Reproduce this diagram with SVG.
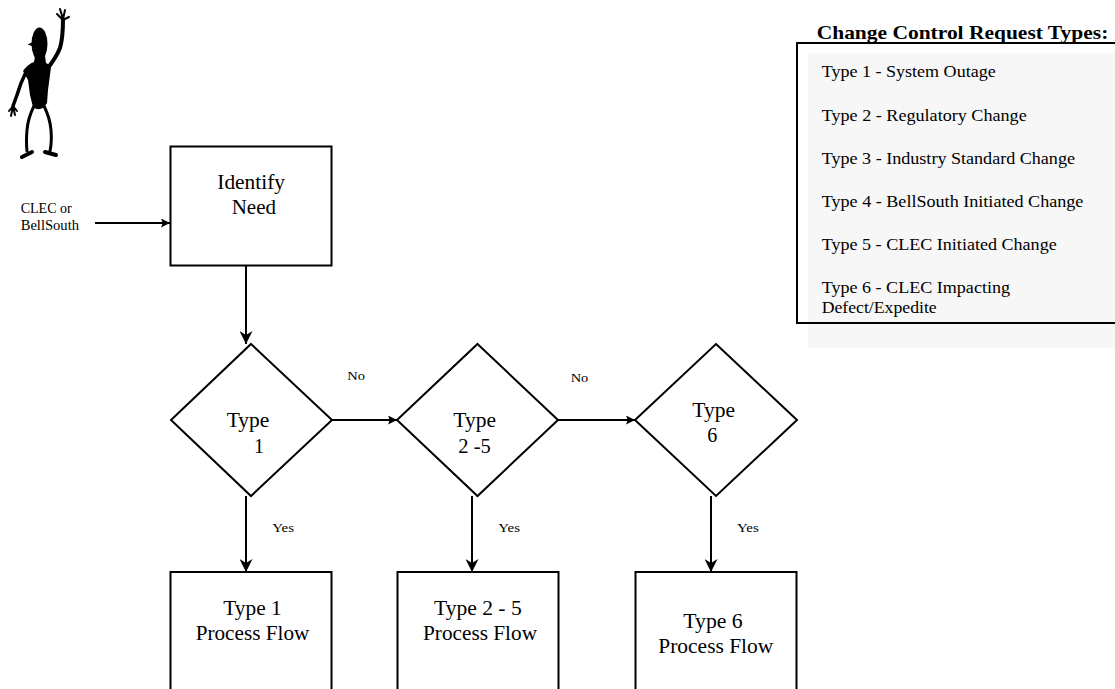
<svg xmlns="http://www.w3.org/2000/svg" width="1115" height="689" viewBox="0 0 1115 689">
<style>
.box{fill:#fff;stroke:#000;stroke-width:2}
.dia{fill:#fff;stroke:#000;stroke-width:2}
.ln{fill:none;stroke:#000;stroke-width:2}
.t{font-family:"Liberation Serif","Times New Roman",serif;fill:#000}
.big{font-size:20px}
.sm{font-size:13px}
.leg{font-size:16px}
.fig{fill:none;stroke:#000;stroke-linecap:round;stroke-linejoin:round}
</style>
<defs>
<marker id="ah" viewBox="0 0 10 10" refX="10" refY="5" markerWidth="13" markerHeight="13" markerUnits="userSpaceOnUse" orient="auto">
<path d="M0,0 L10,5 L0,10 L3,5 Z" fill="#000"/>
</marker>
<marker id="ahs" viewBox="0 0 10 10" refX="10" refY="5" markerWidth="10" markerHeight="9" markerUnits="userSpaceOnUse" orient="auto">
<path d="M0,0 L10,5 L0,10 L2,5 Z" fill="#000"/>
</marker>
</defs>
<rect width="1115" height="689" fill="#fff"/>

<g id="figure">
<ellipse cx="39.5" cy="44" rx="8" ry="16.5" fill="#000"/>
<path d="M27.5,44.5 L35,41 L35,47 Z" fill="#000"/>
<path d="M23,71 Q28,64 34,62 L35,56 L45,56 L46,63 Q49,64 51,67 L48,90 L47,103 Q41,113 33,107 L30,95 L28,80 Z" fill="#000"/>
<path class="fig" stroke-width="4" d="M47,69 Q56,58 60,48 Q63,38 63,19"/>
<path class="fig" stroke-width="2" d="M63,20 L57,14 M63,19 L60,9 M63,19 L65,10 M63,20 L69,17"/>
<path class="fig" stroke-width="3.5" d="M26,72 Q20,84 17,95 L13,106"/>
<path class="fig" stroke-width="2" d="M13,106 L9,111 M13,106 L11,116 M13,106 L15,115 M13,106 L17,111"/>
<path class="fig" stroke-width="3" d="M34,106 Q28,118 27,130 Q26,142 27,151"/>
<path class="fig" stroke-width="4" d="M22,157 L32,152"/>
<path class="fig" stroke-width="3" d="M44,106 Q50,118 51,130 Q52,142 50,151"/>
<path class="fig" stroke-width="4" d="M45,152 L56,155"/>
</g>

<g id="legend">
<rect x="808" y="53" width="320" height="295" fill="#f7f7f7"/>
<rect x="797" y="43" width="330" height="280" fill="none" stroke="#000" stroke-width="2"/>
<text class="t" x="816.7" y="39" font-size="19" font-weight="bold" textLength="291.6" lengthAdjust="spacingAndGlyphs">Change Control Request Types:</text>
<text class="t leg" x="821.7" y="76.7" textLength="174" lengthAdjust="spacingAndGlyphs">Type 1 - System Outage</text>
<text class="t leg" x="821.7" y="121" textLength="205" lengthAdjust="spacingAndGlyphs">Type 2 - Regulatory Change</text>
<text class="t leg" x="821.7" y="164" textLength="253.3" lengthAdjust="spacingAndGlyphs">Type 3 - Industry Standard Change</text>
<text class="t leg" x="821.7" y="207.3" textLength="261.7" lengthAdjust="spacingAndGlyphs">Type 4 - BellSouth Initiated Change</text>
<text class="t leg" x="821.7" y="250.3" textLength="235" lengthAdjust="spacingAndGlyphs">Type 5 - CLEC Initiated Change</text>
<text class="t leg" x="821.7" y="293.3" textLength="188.3" lengthAdjust="spacingAndGlyphs">Type 6 - CLEC Impacting</text>
<text class="t leg" x="821.7" y="313.3" textLength="115" lengthAdjust="spacingAndGlyphs">Defect/Expedite</text>
</g>

<g id="connectors">
<line class="ln" x1="95" y1="223" x2="170" y2="223" marker-end="url(#ahs)"/>
<line class="ln" x1="246" y1="266" x2="246" y2="344" marker-end="url(#ah)"/>
<line class="ln" x1="332" y1="420" x2="397" y2="420" marker-end="url(#ahs)"/>
<line class="ln" x1="558" y1="420" x2="635" y2="420" marker-end="url(#ahs)"/>
<line class="ln" x1="246" y1="496" x2="246" y2="572" marker-end="url(#ah)"/>
<line class="ln" x1="472" y1="496" x2="472" y2="572" marker-end="url(#ah)"/>
<line class="ln" x1="711" y1="496" x2="711" y2="572" marker-end="url(#ah)"/>
<text class="t" x="20.7" y="213.3" font-size="14" textLength="51" lengthAdjust="spacingAndGlyphs">CLEC or</text>
<text class="t" x="20.7" y="230" font-size="14" textLength="58.3" lengthAdjust="spacingAndGlyphs">BellSouth</text>
<text class="t sm" x="347.3" y="380" textLength="17.7" lengthAdjust="spacingAndGlyphs">No</text>
<text class="t sm" x="570.7" y="382" textLength="17.6" lengthAdjust="spacingAndGlyphs">No</text>
<text class="t sm" x="272.3" y="531.7" textLength="21.7" lengthAdjust="spacingAndGlyphs">Yes</text>
<text class="t sm" x="498.3" y="531.7" textLength="21.7" lengthAdjust="spacingAndGlyphs">Yes</text>
<text class="t sm" x="737" y="531.7" textLength="21.7" lengthAdjust="spacingAndGlyphs">Yes</text>
</g>

<g id="identify-need">
<rect class="box" x="170.5" y="146.5" width="161" height="119"/>
<text class="t" x="217.3" y="189.3" font-size="21" textLength="67.7" lengthAdjust="spacingAndGlyphs">Identify</text>
<text class="t" x="231.7" y="214" font-size="21" textLength="44.3" lengthAdjust="spacingAndGlyphs">Need</text>
</g>

<g id="type1-decision">
<polygon class="dia" points="251,344 332,420 251,496 171,420"/>
<text class="t big" x="226.7" y="427.3" textLength="42.6" lengthAdjust="spacingAndGlyphs">Type</text>
<text class="t big" x="254" y="452.7">1</text>
</g>

<g id="type2-5-decision">
<polygon class="dia" points="477.5,344 558,420 477.5,496 397,420"/>
<text class="t big" x="453.3" y="427.3" textLength="42.7" lengthAdjust="spacingAndGlyphs">Type</text>
<text class="t big" x="458.3" y="452.7" textLength="32.4" lengthAdjust="spacingAndGlyphs">2 -5</text>
</g>

<g id="type6-decision">
<polygon class="dia" points="716,344 797,420 716,496 635,420"/>
<text class="t big" x="692.3" y="417.3" textLength="42.7" lengthAdjust="spacingAndGlyphs">Type</text>
<text class="t big" x="707.3" y="442.3">6</text>
</g>

<g id="type1-process">
<rect class="box" x="170.5" y="572" width="161" height="140"/>
<text class="t big" x="223.3" y="615" textLength="58.4" lengthAdjust="spacingAndGlyphs">Type 1</text>
<text class="t big" x="195.7" y="640" textLength="113.6" lengthAdjust="spacingAndGlyphs">Process Flow</text>
</g>

<g id="type2-5-process">
<rect class="box" x="397.5" y="572" width="161" height="140"/>
<text class="t big" x="434" y="615" textLength="87.7" lengthAdjust="spacingAndGlyphs">Type 2 - 5</text>
<text class="t big" x="423" y="640" textLength="114" lengthAdjust="spacingAndGlyphs">Process Flow</text>
</g>

<g id="type6-process">
<rect class="box" x="635.5" y="572" width="161" height="140"/>
<text class="t big" x="683.3" y="627.7" textLength="59.4" lengthAdjust="spacingAndGlyphs">Type 6</text>
<text class="t big" x="658.3" y="652.7" textLength="115" lengthAdjust="spacingAndGlyphs">Process Flow</text>
</g>
</svg>
